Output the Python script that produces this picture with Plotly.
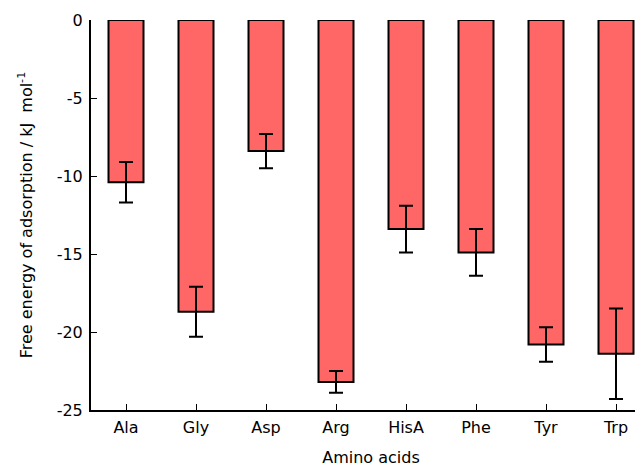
import plotly.graph_objects as go

amino_acids = ["Ala", "Gly", "Asp", "Arg", "HisA", "Phe", "Tyr", "Trp"]
free_energy = [-10.4, -18.7, -8.4, -23.2, -13.4, -14.9, -20.8, -21.4]
error = [1.3, 1.6, 1.1, 0.7, 1.5, 1.5, 1.1, 2.9]
y_ticks = [0, -5, -10, -15, -20, -25]

fig = go.Figure()
fig.add_trace(go.Bar(
    x=list(range(len(amino_acids))),
    y=free_energy,
    width=0.5,
    marker=dict(color="#ff6666", line=dict(color="black", width=2)),
    error_y=dict(type="data", array=error, visible=True, color="black", thickness=2, width=7),
))

font = "DejaVu Sans, sans-serif"
# page body has an 8px default margin; margins below compensate for it
fig.update_layout(
    width=643, height=466,
    margin=dict(l=83, r=0, t=12, b=64),
    plot_bgcolor="white", paper_bgcolor="white",
    font=dict(family=font, size=16, color="black"),
    showlegend=False,
    xaxis=dict(
        tickmode="array",
        tickvals=list(range(len(amino_acids))),
        ticktext=amino_acids,
        range=[-0.5, 7.5],
        showline=True, linecolor="black", linewidth=2,
        ticks="inside", ticklen=6, tickwidth=1, tickcolor="black",
        ticklabelstandoff=2,
        showgrid=False, zeroline=False,
        title=dict(text="Amino acids", font=dict(size=16), standoff=16),
    ),
    yaxis=dict(
        range=[-25, 0],
        tickmode="array", tickvals=y_ticks, ticktext=[str(v) for v in y_ticks],
        showline=True, linecolor="black", linewidth=2,
        ticks="inside", ticklen=6, tickwidth=1, tickcolor="black",
        ticklabelstandoff=3,
        showgrid=False, zeroline=False,
        title=dict(text="Free energy of adsorption / kJ  mol<sup>-1</sup>", font=dict(size=16), standoff=20),
    ),
)

fig.write_html("out.html")
